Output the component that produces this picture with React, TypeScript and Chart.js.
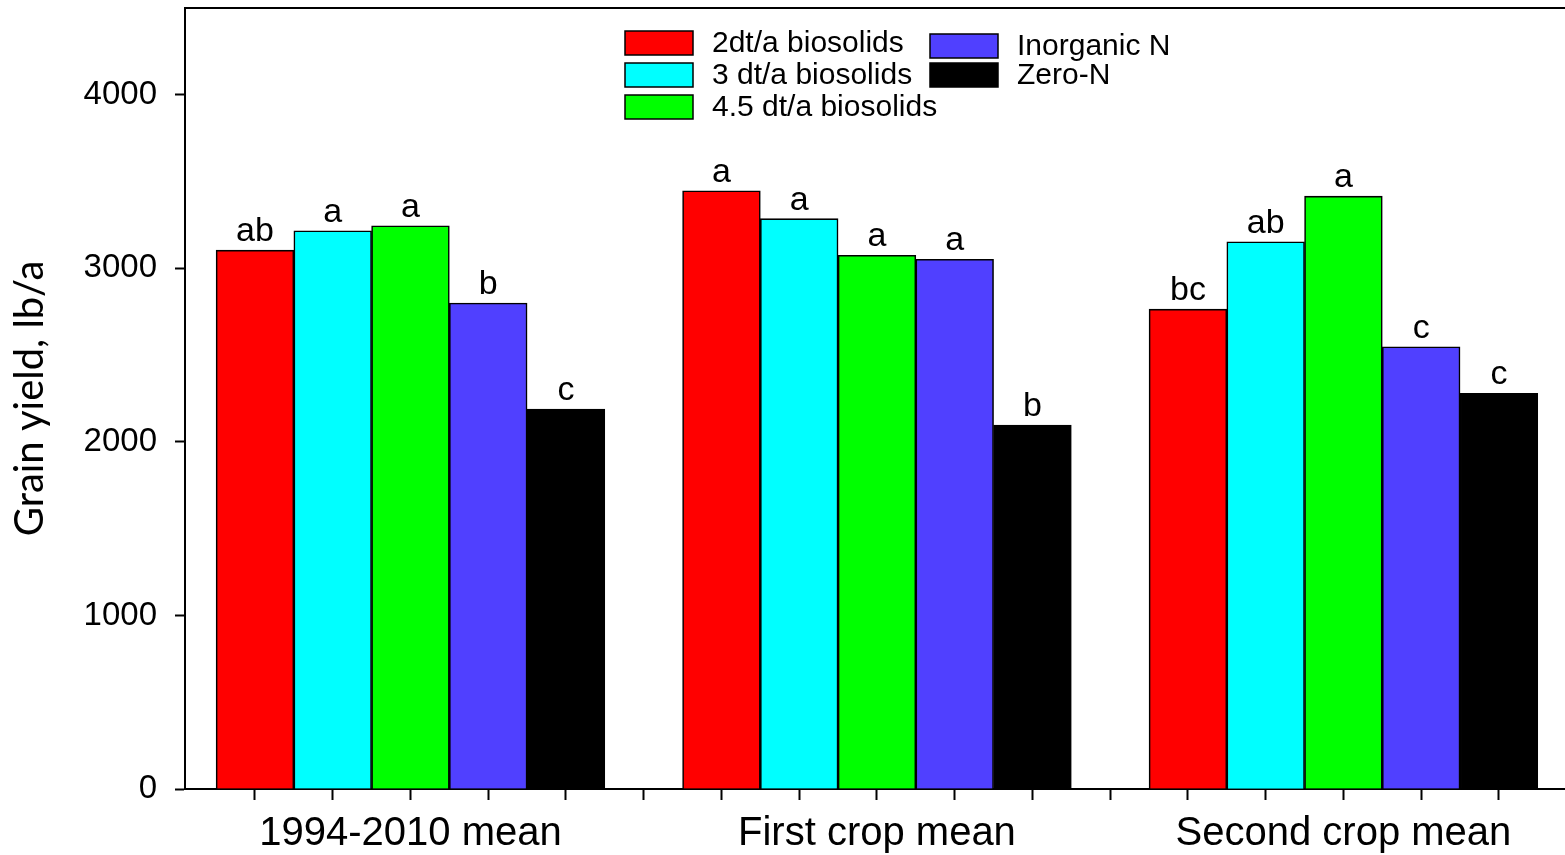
import React, { useEffect, useRef } from 'react';
import { Chart, registerables } from 'chart.js';

Chart.register(...registerables);

const FONT = '"Liberation Sans", Arial, sans-serif';

// ---- data ----
const categories = ['1994-2010 mean', 'First crop mean', 'Second crop mean'];
const seriesLabels = ['2dt/a biosolids', '3 dt/a biosolids', '4.5 dt/a biosolids', 'Inorganic N', 'Zero-N'];
const seriesColors = ['#FF0000', '#00FFFF', '#00FF00', '#5040FF', '#000000'];

const biosolids2 = [3105, 3447, 2765];
const biosolids3 = [3216, 3286, 3153];
const biosolids45 = [3245, 3075, 3416];
const inorganicN = [2800, 3052, 2548];
const zeroN = [2189, 2097, 2280];

const letters2 = ['ab', 'a', 'bc'];
const letters3 = ['a', 'a', 'ab'];
const letters45 = ['a', 'a', 'a'];
const lettersInorganic = ['b', 'a', 'c'];
const lettersZero = ['c', 'b', 'c'];

const yTickValues = [0, 1000, 2000, 3000, 4000];
const yMax = 4500;

const seriesValues = [biosolids2, biosolids3, biosolids45, inorganicN, zeroN];
const seriesLetters = [letters2, letters3, letters45, lettersInorganic, lettersZero];

// each category occupies 6 slots: 5 bars + 1 gap
const SLOTS = 6;

const lettersPlugin = {
  id: 'barLetters',
  afterDatasetsDraw(chart: any) {
    const ctx = chart.ctx;
    ctx.save();
    ctx.font = `34px ${FONT}`;
    ctx.fillStyle = '#000';
    ctx.textAlign = 'center';
    ctx.textBaseline = 'alphabetic';
    chart.data.datasets.forEach((ds: any, i: number) => {
      const meta = chart.getDatasetMeta(i);
      meta.data.forEach((el: any, j: number) => {
        const t = ds.letters ? ds.letters[j] : '';
        if (t) ctx.fillText(t, el.x, el.y - 9);
      });
    });
    ctx.restore();
  },
};

const framePlugin = {
  id: 'topFrame',
  afterDraw(chart: any) {
    const { ctx, chartArea } = chart;
    ctx.save();
    ctx.strokeStyle = '#000';
    ctx.lineWidth = 2;
    ctx.beginPath();
    ctx.moveTo(chartArea.left - 1, chartArea.top);
    ctx.lineTo(chartArea.right, chartArea.top);
    ctx.stroke();
    ctx.restore();
  },
};

const legendPlugin = {
  id: 'columnLegend',
  afterDraw(chart: any, _args: any, opts: any) {
    const ctx = chart.ctx;
    const ds = chart.data.datasets;
    ctx.save();
    ctx.font = `${opts.fontSize}px ${FONT}`;
    ctx.textBaseline = 'middle';
    ctx.textAlign = 'left';
    opts.columns.forEach((col: any) => {
      col.items.forEach((idx: number, r: number) => {
        const cy = col.y + r * col.step;
        const x = col.x;
        ctx.fillStyle = ds[idx].backgroundColor;
        ctx.fillRect(x, cy - opts.boxH / 2, opts.boxW, opts.boxH);
        ctx.strokeStyle = '#000';
        ctx.lineWidth = 1.5;
        ctx.strokeRect(x, cy - opts.boxH / 2, opts.boxW, opts.boxH);
        ctx.fillStyle = '#000';
        ctx.fillText(ds[idx].label, x + opts.boxW + opts.gap, cy + 1);
      });
    });
    ctx.restore();
  },
};

export default function App() {
  const ref = useRef<HTMLCanvasElement | null>(null);

  useEffect(() => {
    if (!ref.current) return;
    Chart.defaults.font.family = FONT;
    const datasets = seriesLabels.map((label, s) => ({
      label,
      data: seriesValues[s].map((v, g) => ({ x: g * SLOTS + s, y: v })),
      letters: seriesLetters[s],
      backgroundColor: seriesColors[s],
      borderColor: '#000',
      borderWidth: 1.6,
      grouped: false,
      barPercentage: 1,
      categoryPercentage: 1,
    }));

    const axisGrid = {
      display: true,
      drawOnChartArea: false,
      drawTicks: true,
      tickWidth: 2,
      tickColor: '#000',
      offset: false,
    };

    const chart = new Chart(ref.current, {
      type: 'bar',
      data: { datasets } as any,
      options: {
        responsive: false,
        animation: false,
        events: [],
        layout: { padding: { left: 0, right: 0, top: 8, bottom: 0 } },
        plugins: {
          legend: { display: false },
          tooltip: { enabled: false },
          columnLegend: {
            fontSize: 30,
            boxW: 68,
            boxH: 24,
            gap: 19,
            columns: [
              { x: 625, y: 43, step: 32, items: [0, 1, 2] },
              { x: 930, y: 46, step: 29, items: [3, 4] },
            ],
          },
        } as any,
        scales: {
          x: {
            type: 'linear',
            min: -0.9,
            max: 16.85,
            offset: false,
            grid: { ...axisGrid, tickLength: 11 },
            border: { display: true, color: '#000', width: 2 },
            ticks: {
              stepSize: 1,
              includeBounds: false,
              autoSkip: false,
              maxRotation: 0,
              minRotation: 0,
              padding: 10,
              color: '#000',
              font: { family: FONT, size: 40 },
              callback: (v: any) => {
                const g = (Number(v) - 2) / SLOTS;
                return Number.isInteger(g) && categories[g] ? categories[g] : '';
              },
            },
            afterFit: (s: any) => {
              s.height = 66;
              s.paddingLeft = 0;
              s.paddingRight = 0;
            },
          },
          y: {
            min: 0,
            max: yMax,
            grid: { ...axisGrid, tickLength: 10 },
            border: { display: true, color: '#000', width: 2 },
            afterBuildTicks: (s: any) => {
              s.ticks = yTickValues.map((v) => ({ value: v }));
            },
            ticks: {
              padding: 18,
              color: '#000',
              font: { family: FONT, size: 33 },
              callback: (v: any) => String(v),
            },
            title: {
              display: true,
              text: 'Grain yield, lb/a',
              color: '#000',
              font: { family: '"Comic Sans MS", Lato, sans-serif', size: 40 },
              padding: { top: 6, bottom: 0 },
            },
            afterFit: (s: any) => {
              s.width = 185;
              s.paddingTop = 0;
              s.paddingBottom = 0;
            },
          },
        },
      } as any,
      plugins: [lettersPlugin, framePlugin, legendPlugin],
    });
    return () => chart.destroy();
  }, []);

  return (
    <canvas
      ref={ref}
      width={1565}
      height={855}
      style={{ display: 'block', position: 'fixed', left: 0, top: 0 }}
    />
  );
}
